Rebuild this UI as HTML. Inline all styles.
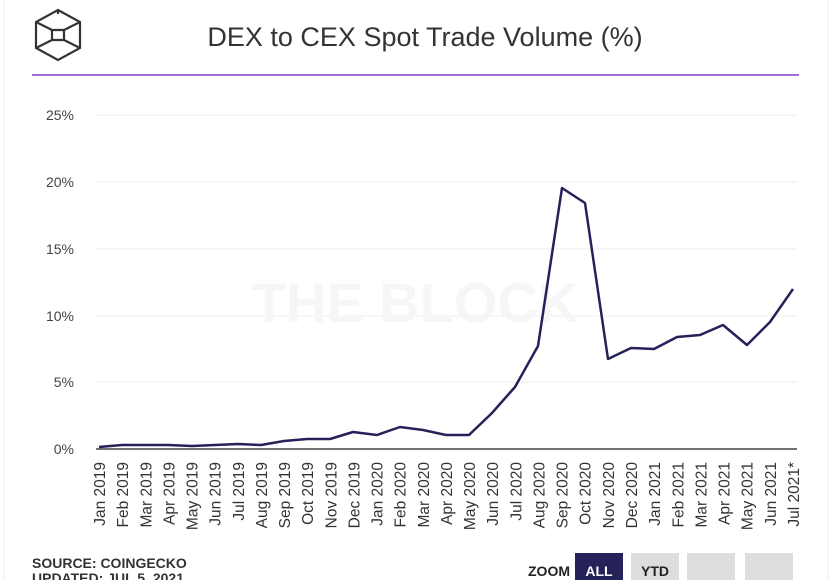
<!DOCTYPE html>
<html><head><style>
body{margin:0;width:832px;height:580px;background:#fff;overflow:hidden;font-family:"Liberation Sans",sans-serif}
</style></head><body>
<svg width="832" height="580" viewBox="0 0 832 580" xmlns="http://www.w3.org/2000/svg" font-family="Liberation Sans, sans-serif">
<rect x="0" y="0" width="832" height="580" fill="#fff"/>
<line x1="4" y1="0" x2="4" y2="580" stroke="#eee"/>
<line x1="828" y1="0" x2="828" y2="580" stroke="#eee"/>
<g fill="none" stroke="#333" stroke-width="2.2">
<polygon points="58,10 80,22 80,48 58,60 36,48 36,22"/>
<polyline points="36,22 52,30 64,30 80,22"/><polyline points="36,48 52,40 64,40 80,48"/>
<polyline points="52,30 52,40"/><polyline points="64,30 64,40"/>
<line x1="58" y1="10" x2="58" y2="14"/>
</g>
<text x="425" y="46" font-size="27" fill="#333" text-anchor="middle">DEX to CEX Spot Trade Volume (%)</text>
<line x1="32" y1="75" x2="799" y2="75" stroke="#9b6fd6" stroke-width="2"/>
<g stroke="#eee" stroke-width="1">
<line x1="96" y1="115" x2="797" y2="115"/><line x1="96" y1="182" x2="797" y2="182"/>
<line x1="96" y1="249" x2="797" y2="249"/><line x1="96" y1="316" x2="797" y2="316"/>
<line x1="96" y1="382" x2="797" y2="382"/>
</g>
<line x1="96" y1="449" x2="797" y2="449" stroke="#444" stroke-width="1.5"/>
<text x="74" y="120" font-size="14" fill="#444" text-anchor="end">25%</text>
<text x="74" y="187" font-size="14" fill="#444" text-anchor="end">20%</text>
<text x="74" y="254" font-size="14" fill="#444" text-anchor="end">15%</text>
<text x="74" y="321" font-size="14" fill="#444" text-anchor="end">10%</text>
<text x="74" y="387" font-size="14" fill="#444" text-anchor="end">5%</text>
<text x="74" y="454" font-size="14" fill="#444" text-anchor="end">0%</text>
<text x="415" y="322" font-size="56" font-weight="bold" fill="#f6f6f6" text-anchor="middle">THE BLOCK</text>
<polyline fill="none" stroke="#25225a" stroke-width="2.5" stroke-linejoin="round" points="99,447 122,445 145,445 168,445 192,446 215,445 238,444 261,445 284,441 307,439 330,439 353,432 377,435 400,427 423,430 446,435 469,435 492,413 515,387 538,346 562,188 585,203 608,359 631,348 654,349 677,337 700,335 723,325 747,345 770,322 793,289"/>
<g id="lbl" font-size="15.5" fill="#333" text-anchor="end"></g>
<text x="32" y="568" font-size="14" font-weight="bold" fill="#333">SOURCE: COINGECKO</text>
<text x="32" y="583" font-size="14" font-weight="bold" fill="#333">UPDATED: JUL 5, 2021</text>
<text x="570" y="576" font-size="14" font-weight="bold" fill="#222" text-anchor="end">ZOOM</text>
<rect x="575" y="553" width="48" height="30" fill="#25225a"/>
<text x="599" y="576" font-size="14" font-weight="bold" fill="#fff" text-anchor="middle">ALL</text>
<rect x="631" y="553" width="48" height="30" fill="#ddd"/>
<text x="655" y="576" font-size="14" font-weight="bold" fill="#222" text-anchor="middle">YTD</text>
<rect x="687" y="553" width="48" height="30" fill="#ddd"/>
<rect x="745" y="553" width="48" height="30" fill="#ddd"/>
</svg>
<script>
var m=["Jan","Feb","Mar","Apr","May","Jun","Jul","Aug","Sep","Oct","Nov","Dec"],g=document.getElementById("lbl"),s="";
for(var i=0;i<31;i++){var y=2019+Math.floor(i/12),t=m[i%12]+" "+y+(i==30?"*":"");var x=99+i*23.13+6;
s+='<text transform="translate('+x.toFixed(1)+',462) rotate(-90)">'+t+'</text>';}
g.innerHTML=s;
</script>
</body></html>
